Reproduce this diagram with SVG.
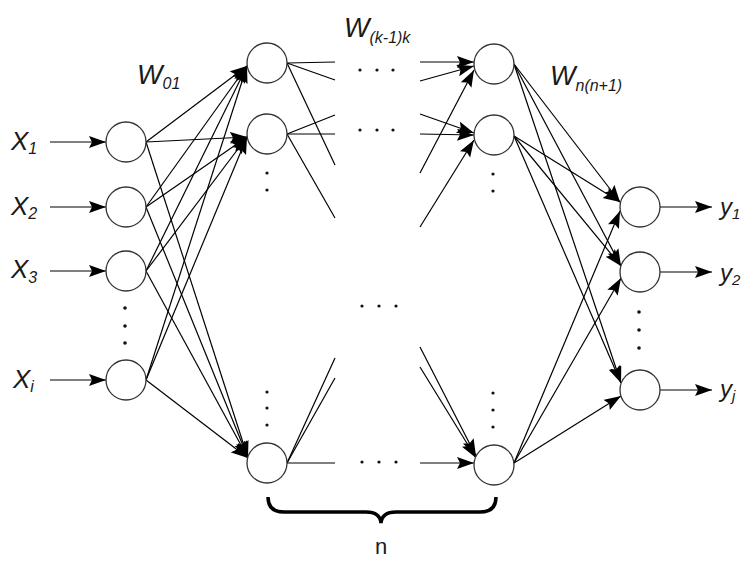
<svg xmlns="http://www.w3.org/2000/svg" width="745" height="561" viewBox="0 0 745 561">
<defs>
<marker id="ah" markerUnits="userSpaceOnUse" markerWidth="18" markerHeight="13" refX="17" refY="6" orient="auto">
<path d="M0,0 L17,6 L0,12 L3,6 z" fill="#000"/>
</marker>
<style>
.n{fill:#fff;stroke:#333;stroke-width:1.3}
.e{stroke:#000;stroke-width:1.2;fill:none}
.a{stroke:#000;stroke-width:1.2;fill:none;marker-end:url(#ah)}
.d{fill:#111}
.t{font-family:"Liberation Sans",Arial,sans-serif;font-style:italic;fill:#1a1a1a}
</style>
</defs>
<rect width="745" height="561" fill="#fff"/>
<g id="connectors">
<line class="a" x1="50" y1="142" x2="106" y2="142"/>
<line class="a" x1="50" y1="207" x2="106" y2="207"/>
<line class="a" x1="50" y1="271" x2="106" y2="271"/>
<line class="a" x1="50" y1="380" x2="106" y2="380"/>
<line class="a" x1="146" y1="142" x2="247" y2="66"/>
<line class="a" x1="146" y1="142" x2="247" y2="137"/>
<line class="a" x1="146" y1="142" x2="248" y2="458"/>
<line class="a" x1="146" y1="207" x2="247" y2="66"/>
<line class="a" x1="146" y1="207" x2="247" y2="137"/>
<line class="a" x1="146" y1="207" x2="248" y2="458"/>
<line class="a" x1="146" y1="271" x2="247" y2="66"/>
<line class="a" x1="146" y1="271" x2="247" y2="137"/>
<line class="a" x1="146" y1="271" x2="248" y2="458"/>
<line class="a" x1="146" y1="380" x2="247" y2="66"/>
<line class="a" x1="146" y1="380" x2="247" y2="137"/>
<line class="a" x1="146" y1="380" x2="248" y2="458"/>
<line class="e" x1="287" y1="63" x2="335" y2="62"/>
<line class="e" x1="287" y1="63" x2="335" y2="80"/>
<line class="e" x1="287" y1="63" x2="335" y2="165"/>
<line class="e" x1="287" y1="134" x2="335" y2="115"/>
<line class="e" x1="287" y1="134" x2="335" y2="134"/>
<line class="e" x1="287" y1="134" x2="335" y2="218"/>
<line class="e" x1="287" y1="463" x2="335" y2="358"/>
<line class="e" x1="287" y1="463" x2="335" y2="378"/>
<line class="e" x1="287" y1="463" x2="335" y2="463"/>
<line class="a" x1="420" y1="62" x2="474" y2="62"/>
<line class="a" x1="420" y1="81" x2="474" y2="66"/>
<line class="a" x1="420" y1="173" x2="474" y2="70"/>
<line class="a" x1="420" y1="114" x2="474" y2="133"/>
<line class="a" x1="420" y1="134" x2="474" y2="135"/>
<line class="a" x1="420" y1="227" x2="474" y2="140"/>
<line class="a" x1="420" y1="347" x2="476" y2="456"/>
<line class="a" x1="420" y1="367" x2="476" y2="458"/>
<line class="a" x1="420" y1="463" x2="474" y2="463"/>
<line class="a" x1="514" y1="64" x2="620" y2="202"/>
<line class="a" x1="514" y1="64" x2="621" y2="266"/>
<line class="a" x1="514" y1="64" x2="621" y2="383"/>
<line class="a" x1="514" y1="136" x2="620" y2="202"/>
<line class="a" x1="514" y1="136" x2="621" y2="266"/>
<line class="a" x1="514" y1="136" x2="621" y2="383"/>
<line class="a" x1="514" y1="463" x2="620" y2="211"/>
<line class="a" x1="514" y1="463" x2="621" y2="278"/>
<line class="a" x1="514" y1="463" x2="621" y2="396"/>
<line class="a" x1="660" y1="207" x2="712" y2="207"/>
<line class="a" x1="660" y1="272" x2="712" y2="272"/>
<line class="a" x1="660" y1="390" x2="712" y2="390"/>
</g>
<g id="input-1"><circle class="n" cx="126" cy="142" r="20"/><text class="t" x="11" y="150" font-size="26">X<tspan font-size="16" dy="4">1</tspan></text></g>
<g id="input-2"><circle class="n" cx="126" cy="207" r="20"/><text class="t" x="11" y="215" font-size="26">X<tspan font-size="16" dy="4">2</tspan></text></g>
<g id="input-3"><circle class="n" cx="126" cy="271" r="20"/><text class="t" x="11" y="278" font-size="26">X<tspan font-size="16" dy="5">3</tspan></text></g>
<g id="input-i"><circle class="n" cx="126" cy="380" r="20"/><text class="t" x="13" y="388" font-size="26">X<tspan font-size="16" dy="4">i</tspan></text></g>
<g id="input-dots"><circle class="d" cx="125" cy="308" r="1.8"/><circle class="d" cx="125" cy="326" r="1.8"/><circle class="d" cx="125" cy="343" r="1.8"/></g>
<g id="hidden1-1"><circle class="n" cx="267" cy="63" r="20"/></g>
<g id="hidden1-2"><circle class="n" cx="267" cy="134" r="20"/></g>
<g id="hidden1-m"><circle class="n" cx="267" cy="463" r="20"/></g>
<g id="hidden1-dots"><circle class="d" cx="267" cy="173" r="1.6"/><circle class="d" cx="267" cy="190" r="1.6"/><circle class="d" cx="267" cy="392" r="1.6"/><circle class="d" cx="267" cy="408" r="1.6"/><circle class="d" cx="267" cy="425" r="1.6"/></g>
<g id="hiddenn-1"><circle class="n" cx="494" cy="64" r="20"/></g>
<g id="hiddenn-2"><circle class="n" cx="494" cy="135" r="20"/></g>
<g id="hiddenn-m"><circle class="n" cx="494" cy="465" r="20"/></g>
<g id="hiddenn-dots"><circle class="d" cx="493" cy="174" r="1.6"/><circle class="d" cx="493" cy="191" r="1.6"/><circle class="d" cx="493" cy="393" r="1.6"/><circle class="d" cx="493" cy="410" r="1.6"/><circle class="d" cx="493" cy="427" r="1.6"/></g>
<g id="mid-dots">
<circle class="d" cx="360" cy="70" r="1.6"/><circle class="d" cx="377" cy="70" r="1.6"/><circle class="d" cx="393" cy="70" r="1.6"/>
<circle class="d" cx="360" cy="130" r="1.6"/><circle class="d" cx="377" cy="130" r="1.6"/><circle class="d" cx="393" cy="130" r="1.6"/>
<circle class="d" cx="362" cy="306" r="1.6"/><circle class="d" cx="379" cy="306" r="1.6"/><circle class="d" cx="396" cy="306" r="1.6"/>
<circle class="d" cx="362" cy="462" r="1.6"/><circle class="d" cx="379" cy="462" r="1.6"/><circle class="d" cx="396" cy="462" r="1.6"/>
</g>
<g id="output-1"><circle class="n" cx="640" cy="207" r="20"/><text class="t" x="720" y="215" font-size="24">y<tspan font-size="15" dy="4">1</tspan></text></g>
<g id="output-2"><circle class="n" cx="640" cy="272" r="20"/><text class="t" x="720" y="281" font-size="24">y<tspan font-size="15" dy="4">2</tspan></text></g>
<g id="output-j"><circle class="n" cx="640" cy="390" r="20"/><text class="t" x="720" y="397" font-size="24">y<tspan font-size="15" dy="4">j</tspan></text></g>
<g id="output-dots"><circle class="d" cx="639" cy="312" r="1.8"/><circle class="d" cx="639" cy="330" r="1.8"/><circle class="d" cx="639" cy="348" r="1.8"/></g>
<g id="labels">
<text class="t" x="137" y="84" font-size="27">W<tspan font-size="16" dy="5">01</tspan></text>
<text class="t" x="344" y="37" font-size="27">W<tspan font-size="16" dy="6">(k-1)k</tspan></text>
<text class="t" x="550" y="85" font-size="27">W<tspan font-size="16" dy="6">n(n+1)</tspan></text>
</g>
<g id="brace">
<path d="M268,497 Q268,512 284,512 L366,512 Q380,512 381,523 Q382,512 396,512 L480,512 Q496,512 496,497" fill="none" stroke="#000" stroke-width="3.5"/>
<text x="381" y="554" font-size="22" text-anchor="middle" font-family="Liberation Sans, Arial, sans-serif" fill="#1a1a1a">n</text>
</g>
</svg>
